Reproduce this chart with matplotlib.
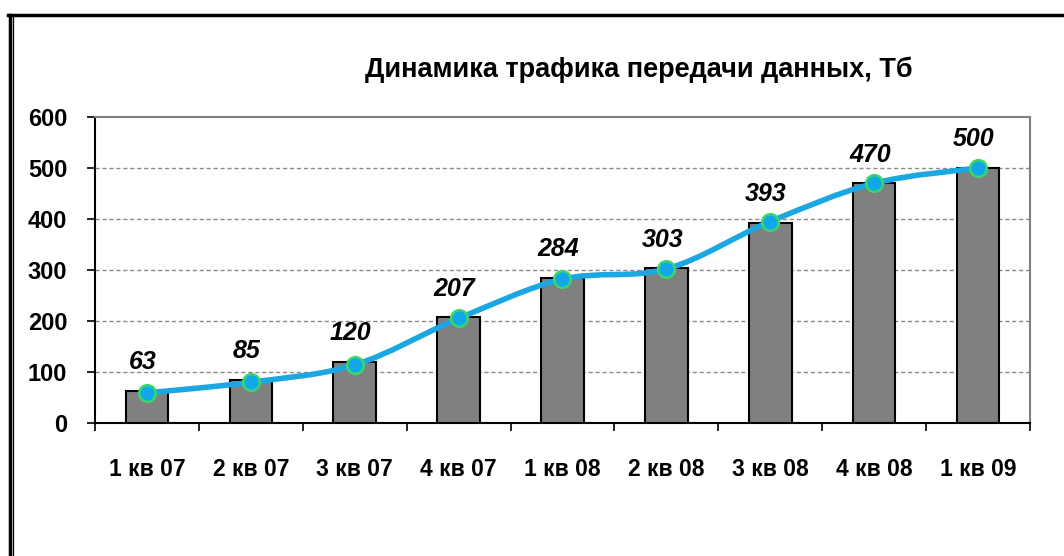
import numpy as np
import matplotlib.pyplot as plt
from matplotlib.path import Path
from matplotlib.patches import PathPatch
from matplotlib.lines import Line2D

plt.rcParams['font.family'] = ['Liberation Sans', 'DejaVu Sans']

quarters = ['1 кв 07', '2 кв 07', '3 кв 07', '4 кв 07', '1 кв 08',
            '2 кв 08', '3 кв 08', '4 кв 08', '1 кв 09']
traffic = [63, 85, 120, 207, 284, 303, 393, 470, 500]
# the trend line sits a little off the bar tops in the original
trend = [59, 80, 114, 205, 282, 302, 395, 470, 500]

fig = plt.figure(figsize=(10.64, 5.56), dpi=100)
fig.patch.set_facecolor('white')
ax = fig.add_axes([0.0893, 0.2392, 0.8787, 0.5504])

x = np.arange(len(quarters))
ax.bar(x, traffic, width=0.41, color='#808080', edgecolor='black',
       linewidth=1.5, zorder=3)

# smoothed line (bezier through the points, like Excel's smoothing)
pts = np.column_stack([x, trend]).astype(float)
verts = [pts[0]]
codes = [Path.MOVETO]
for i in range(len(pts) - 1):
    p0 = pts[i - 1] if i > 0 else pts[i]
    p1, p2 = pts[i], pts[i + 1]
    p3 = pts[i + 2] if i + 2 < len(pts) else pts[i + 1]
    verts += [p1 + (p2 - p0) / 6, p2 - (p3 - p1) / 6, p2]
    codes += [Path.CURVE4] * 3
ax.add_patch(PathPatch(Path(verts, codes), facecolor='none',
                       edgecolor='#1aa7e2', linewidth=4, zorder=4,
                       capstyle='round'))
ax.plot(x, trend, linestyle='none', marker='o', markersize=12,
        markerfacecolor='#10a8e8', markeredgecolor='#3ad66a',
        markeredgewidth=1.8, zorder=5)

for xi, v in zip(x, traffic):
    ax.annotate(str(v), (xi, v), xytext=(-3, 12), textcoords='offset points',
                ha='center', va='bottom', fontsize=18, fontweight='bold',
                fontstyle='italic', zorder=6)

ax.set_xlim(-0.5, len(quarters) - 0.5)
ax.set_ylim(0, 600)
ax.set_yticks(range(0, 700, 100))
ax.set_yticks([], minor=True)
ax.set_xticks(np.arange(len(quarters) + 1) - 0.5)
ax.set_xticklabels([])
ax.set_xticks(x, minor=True)
ax.set_xticklabels(quarters, minor=True, fontsize=16.5, fontweight='bold')
ax.tick_params(axis='x', which='major', direction='out', length=6, width=1.2)
ax.tick_params(axis='x', which='minor', length=0, pad=25)
ax.tick_params(axis='y', direction='out', length=6, width=1.2, pad=14)
for lbl in ax.get_yticklabels():
    lbl.set_fontsize(17)
    lbl.set_fontweight('bold')

for yv in range(100, 600, 100):
    ax.axhline(yv, color='#8a8a8a', linestyle=(0, (3, 2)), linewidth=1, zorder=1)

ax.spines['left'].set_linewidth(1.5)
ax.spines['bottom'].set_linewidth(1.5)
ax.spines['top'].set_color('#808080')
ax.spines['right'].set_color('#808080')
ax.spines['top'].set_linewidth(1.5)
ax.spines['right'].set_linewidth(1.5)

fig.text(0.6, 1 - 77 / 556, 'Динамика трафика передачи данных, Тб', ha='center',
         va='baseline', fontsize=19.5, fontweight='bold')

# outer frame (top and doubled left edge)
fig.add_artist(Line2D([8 / 1064, 1.0], [1 - 14.5 / 556] * 2, color='black',
                      linewidth=2.5, transform=fig.transFigure))
fig.add_artist(Line2D([9.5 / 1064] * 2, [0, 1 - 14.5 / 556], color='black',
                      linewidth=2.5, transform=fig.transFigure))
fig.add_artist(Line2D([12.8 / 1064] * 2, [0, 1 - 16 / 556], color='black',
                      linewidth=0.9, transform=fig.transFigure))

fig.savefig('out.png', dpi=100)
